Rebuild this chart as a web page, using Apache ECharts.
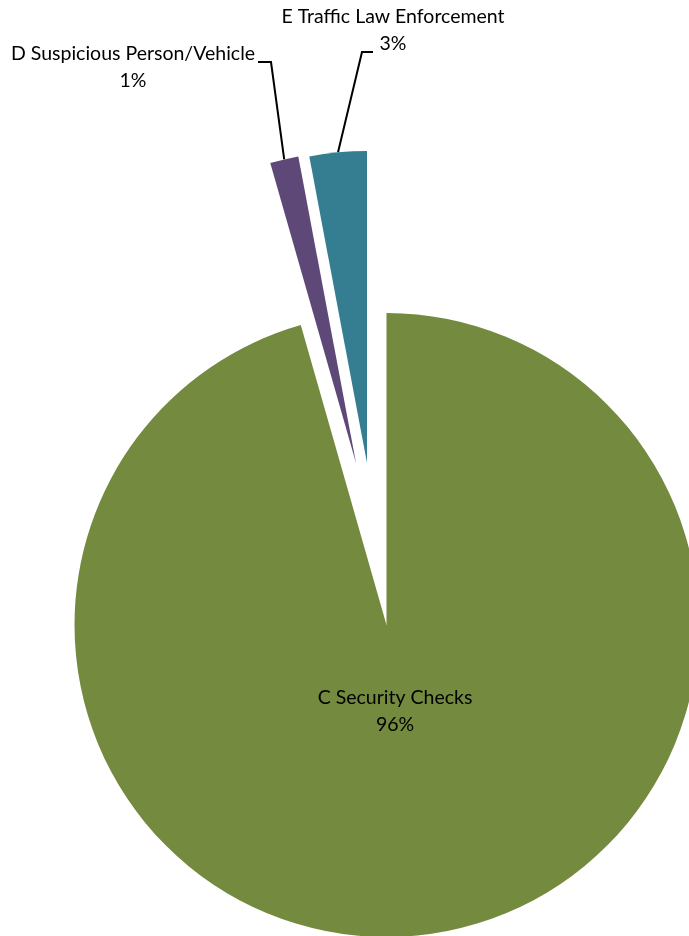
<!DOCTYPE html>
<html><head><meta charset="utf-8">
<script src="https://cdn.jsdelivr.net/npm/echarts@6/dist/echarts.min.js"></script>
<style>html,body{margin:0;padding:0;background:#fff}#chart{width:689px;height:936px}</style>
</head><body><div id="chart"></div>
<script>
const categories = ['C Security Checks', 'D Suspicious Person/Vehicle', 'E Traffic Law Enforcement'];
const values = [95.57, 1.47, 2.96];
const colors = ['#748A3E', '#5E4878', '#357E92'];

// layout
const CX = 386.5, CY = 625, R = 312;
const explodeShift = [[0, 0], [-30.5, -162], [-19.5, -162]];
const labelPlace = [
  { x: 395, y: 711 },
  { x: 133, y: 67, line: [[271, 62], [258, 62]] },
  { x: 393, y: 30, line: [[362, 52], [373, 52]] }
];

const total = values.reduce((a, b) => a + b, 0);
const mids = []; let acc = 0;
values.forEach(v => { mids.push((acc + v / 2) / total * 2 * Math.PI); acc += v; });

const series = categories.map((name, k) => {
  const cx = CX + explodeShift[k][0];
  const cy = CY + explodeShift[k][1];
  const start = [cx + R * Math.sin(mids[k]), cy - R * Math.cos(mids[k])];
  return {
    type: 'pie', radius: R, center: [cx, cy], startAngle: 90, clockwise: true,
    percentPrecision: 0, avoidLabelOverlap: false, silent: true, animation: false,
    emphasis: { disabled: true },
    data: categories.map((n, i) => ({
      name: n, value: values[i],
      itemStyle: { color: i === k ? colors[i] : 'rgba(0,0,0,0)' },
      label: { show: i === k },
      labelLine: { show: i === k && k > 0 }
    })),
    label: {
      position: k === 0 ? 'inside' : 'outside', formatter: '{b}\n{d}%',
      color: '#000', fontFamily: 'Lato', fontSize: 19.5, lineHeight: 27
    },
    labelLine: { lineStyle: { color: '#000', width: 2 }, length: 20, length2: 10 },
    labelLayout: function (p) {
      if (p.dataIndex !== k) return {};
      const L = labelPlace[k];
      const o = { x: L.x, y: L.y, align: 'center', verticalAlign: 'middle' };
      if (L.line) o.labelLinePoints = [start, L.line[0], L.line[1]];
      return o;
    }
  };
});

const chart = echarts.init(document.getElementById('chart'), null, { renderer: 'canvas' });
chart.setOption({ backgroundColor: '#fff', animation: false, series: series });
</script>
</body></html>
